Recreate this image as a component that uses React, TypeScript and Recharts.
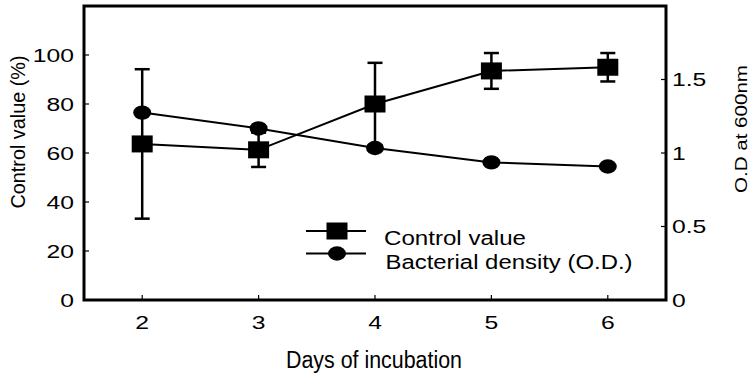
import React from 'react';
import {
  ComposedChart,
  Line,
  XAxis,
  YAxis,
  ErrorBar,
  ReferenceArea,
  Customized,
} from 'recharts';

// Days of incubation
const days = [2, 3, 4, 5, 6];
// Control value (%) with its standard deviation
const controlValue = [63.7, 61.3, 80.0, 93.5, 95.0];
const controlError = [30.5, 7.0, 16.8, 7.3, 5.8];
// Bacterial density, O.D. at 600 nm
const bacterialDensity = [1.275, 1.167, 1.034, 0.936, 0.908];

const leftTicks = [0, 20, 40, 60, 80, 100];
const rightTicks = [0, 0.5, 1, 1.5];

const seriesNames = ['Control value', 'Bacterial density (O.D.)'];
const xTitle = 'Days of incubation';
const leftTitle = 'Control value (%)';
const rightTitle = 'O.D at 600nm';

const rows = days.map((d, i) => ({
  day: d,
  control: controlValue[i],
  err: controlError[i],
  od: bacterialDensity[i],
}));

const FONT = '"Liberation Sans", Arial, sans-serif';

const SquareDot = (props: any) => {
  const { cx, cy, index } = props;
  if (cx == null || cy == null) return null;
  return <rect key={`sq-${index}`} x={cx - 10.5} y={cy - 8.5} width={21} height={17} fill="#000" />;
};

const RoundDot = (props: any) => {
  const { cx, cy, index } = props;
  if (cx == null || cy == null) return null;
  return <ellipse key={`el-${index}`} cx={cx} cy={cy} rx={9} ry={7.2} fill="#000" />;
};

const makeTick = (side: 'left' | 'right' | 'bottom') => (props: any) => {
  const { x, y, payload } = props;
  const anchor = side === 'left' ? 'end' : side === 'right' ? 'start' : 'middle';
  const dy = side === 'bottom' ? '0.71em' : '0.36em';
  return (
    <g transform={`translate(${x},${y})`}>
      <text
        transform="scale(1.3,1)"
        textAnchor={anchor}
        dy={dy}
        fontSize={19}
        fontFamily={FONT}
        fill="#000"
      >
        {payload.value}
      </text>
    </g>
  );
};

const Titles = () => (
  <g fontFamily={FONT} fill="#000">
    <text
      x={374}
      y={368}
      fontSize={23}
      textAnchor="middle"
      textLength={176}
      lengthAdjust="spacingAndGlyphs"
    >
      {xTitle}
    </text>
    <text
      transform="translate(25,132) rotate(-90)"
      fontSize={21}
      textAnchor="middle"
      textLength={153}
      lengthAdjust="spacingAndGlyphs"
    >
      {leftTitle}
    </text>
    <text
      transform="translate(747,129) rotate(-90)"
      fontSize={16}
      textAnchor="middle"
      textLength={128}
      lengthAdjust="spacingAndGlyphs"
    >
      {rightTitle}
    </text>
  </g>
);

const LegendBlock = () => (
  <g fontFamily={FONT} fill="#000">
    <line x1={306} x2={366} y1={231} y2={231} stroke="#000" strokeWidth={2} />
    <rect x={337 - 10.5} y={231 - 8.5} width={21} height={17} fill="#000" />
    <text x={384} y={245} fontSize={20} textLength={142} lengthAdjust="spacingAndGlyphs">
      {seriesNames[0]}
    </text>
    <line x1={306} x2={366} y1={253.5} y2={253.5} stroke="#000" strokeWidth={2} />
    <ellipse cx={337} cy={253.5} rx={9} ry={7.2} fill="#000" />
    <text x={385.5} y={268.5} fontSize={20} textLength={247} lengthAdjust="spacingAndGlyphs">
      {seriesNames[1]}
    </text>
  </g>
);

export default function App() {
  return (
    <div style={{ position: 'absolute', left: 0, top: 0, background: '#fff' }}>
      <ComposedChart
        width={752}
        height={387}
        data={rows}
        margin={{ top: 6, right: 0, bottom: 0, left: 0 }}
      >
        <XAxis
          dataKey="day"
          type="number"
          domain={[1.5, 6.5]}
          ticks={days}
          interval={0}
          height={87}
          axisLine={false}
          tickSize={-5}
          tickMargin={21}
          tickLine={{ stroke: '#000', strokeWidth: 1.2 }}
          tick={makeTick('bottom')}
          allowDataOverflow
        />
        <YAxis
          yAxisId="left"
          domain={[0, 120]}
          ticks={leftTicks}
          interval={0}
          width={84}
          axisLine={false}
          tickSize={-5}
          tickMargin={15}
          tickLine={{ stroke: '#000', strokeWidth: 1.2 }}
          tick={makeTick('left')}
          allowDataOverflow
        />
        <YAxis
          yAxisId="right"
          orientation="right"
          domain={[0, 2]}
          ticks={rightTicks}
          interval={0}
          width={86}
          axisLine={false}
          tickSize={-5}
          tickMargin={11}
          tickLine={{ stroke: '#000', strokeWidth: 1.2 }}
          tick={makeTick('right')}
          allowDataOverflow
        />
        <ReferenceArea
          yAxisId="left"
          x1={1.5}
          x2={6.5}
          y1={0}
          y2={120}
          fill="none"
          stroke="#000"
          strokeWidth={3}
          ifOverflow="visible"
        />
        <Line
          yAxisId="right"
          dataKey="od"
          stroke="#000"
          strokeWidth={2}
          dot={RoundDot}
          activeDot={false}
          isAnimationActive={false}
        />
        <Line
          yAxisId="left"
          dataKey="control"
          stroke="#000"
          strokeWidth={2}
          dot={SquareDot}
          activeDot={false}
          isAnimationActive={false}
        >
          <ErrorBar
            dataKey="err"
            direction="y"
            width={7.5}
            stroke="#000"
            strokeWidth={2.5}
            isAnimationActive={false}
          />
        </Line>
        <Customized component={Titles} />
        <Customized component={LegendBlock} />
      </ComposedChart>
    </div>
  );
}
